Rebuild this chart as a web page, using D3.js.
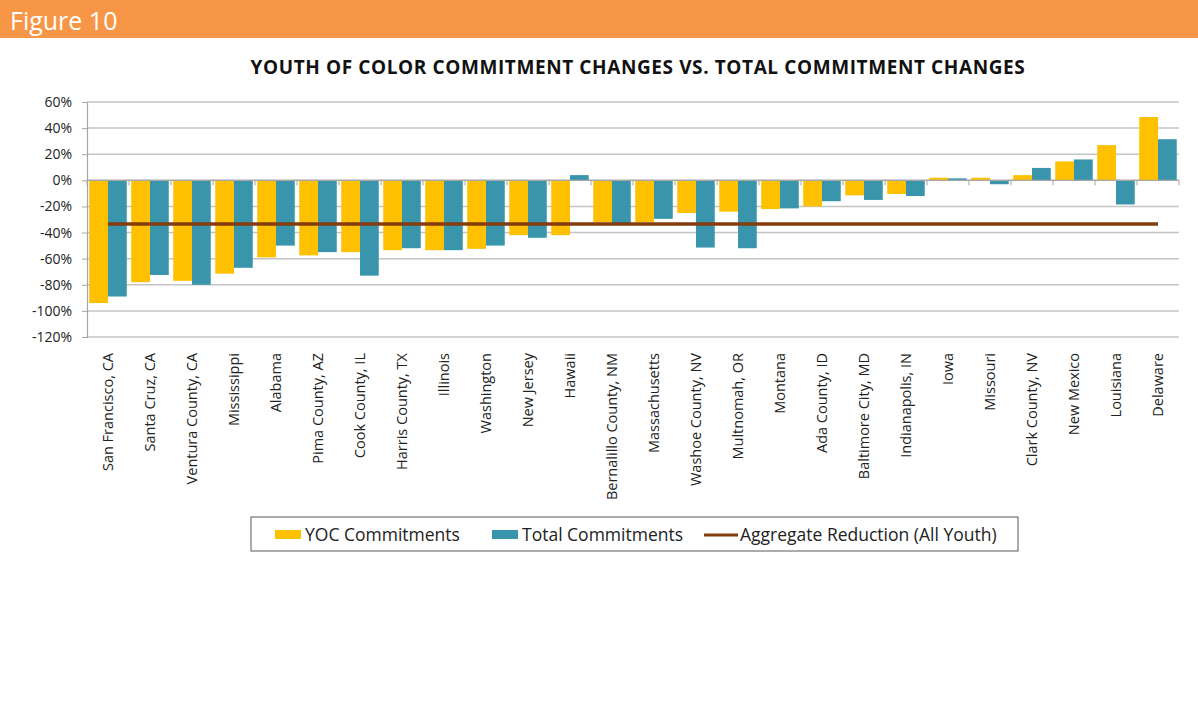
<!DOCTYPE html>
<html>
<head>
<meta charset="utf-8">
<script src="https://cdn.jsdelivr.net/npm/d3@7"></script>
<style>
  body { margin: 0; background: #fff; }
  text { font-family: "Open Sans", "Noto Sans", sans-serif; }
</style>
</head>
<body>
<div id="chart"></div>
<script>
// chart values
const categories = [
  "San Francisco, CA", "Santa Cruz, CA", "Ventura County, CA", "Mississippi",
  "Alabama", "Pima County, AZ", "Cook County, IL", "Harris County, TX",
  "Illinois", "Washington", "New Jersey", "Hawaii", "Bernalillo County, NM",
  "Massachusetts", "Washoe County, NV", "Multnomah, OR", "Montana",
  "Ada County, ID", "Baltimore City, MD", "Indianapolis, IN", "Iowa",
  "Missouri", "Clark County, NV", "New Mexico", "Louisiana", "Delaware"
];
const yocValues = [-94, -78, -77, -71.5, -59, -57.5, -55, -53.5, -53.5, -52.5, -42, -42,
  -32, -32, -25, -24, -22, -20, -11.5, -10.5, 2, 2, 4, 14.5, 27, 48.5];
const totalValues = [-89, -72.5, -80, -67, -50, -55, -73, -52, -53.5, -50, -44, 4,
  -33, -29.5, -51.5, -52, -21.5, -16, -15, -12, 1.5, -3, 9.5, 16, -18.5, 31.5];
const aggregateReduction = -33.5;
const yTicks = [60, 40, 20, 0, -20, -40, -60, -80, -100, -120];
const seriesNames = ["YOC Commitments", "Total Commitments", "Aggregate Reduction (All Youth)"];

const width = 1198;
const height = 707;
const yocColor = "#FFC000";
const totalColor = "#3895AC";
const lineColor = "#843C0C";

const svg = d3.select("#chart")
  .append("svg")
  .attr("width", width)
  .attr("height", height);

// header band
svg.append("rect")
  .attr("x", 0).attr("y", 0)
  .attr("width", width).attr("height", 38)
  .attr("fill", "#F79646");

svg.append("text")
  .attr("x", 10).attr("y", 30)
  .attr("fill", "#fff")
  .style("font-size", "25px")
  .text("Figure 10");

svg.append("text")
  .attr("x", 638).attr("y", 74)
  .attr("text-anchor", "middle")
  .style("font-size", "19px")
  .style("letter-spacing", "0.6px")
  .style("font-weight", "bold")
  .attr("fill", "#111")
  .text("YOUTH OF COLOR COMMITMENT CHANGES VS. TOTAL COMMITMENT CHANGES");

const x = d3.scaleBand()
  .domain(categories)
  .range([87, 1179]);

const xSub = d3.scaleBand()
  .domain(["yoc", "total"])
  .range([0, x.bandwidth()])
  .paddingOuter(0.12);

const y = d3.scaleLinear()
  .domain([-120, 60])
  .range([337, 102]);

// gridlines
svg.append("g")
  .selectAll("line")
  .data(yTicks)
  .join("line")
  .attr("x1", 87).attr("x2", 1179)
  .attr("y1", d => y(d)).attr("y2", d => y(d))
  .attr("stroke", "#C4C4C4")
  .attr("stroke-width", 1.5);

// y axis
const yAxis = svg.append("g")
  .attr("transform", "translate(87,0)")
  .call(d3.axisLeft(y).tickValues(yTicks).tickSize(5).tickPadding(10).tickFormat(d => d + "%"));
yAxis.select(".domain").attr("stroke", "#A6A6A6").attr("stroke-width", 1.2);
yAxis.selectAll(".tick line").attr("stroke", "#A6A6A6");
yAxis.selectAll(".tick text")
  .attr("fill", "#222")
  .style("font-size", "14px")
  .style("font-family", "'Open Sans', sans-serif");

// bars
const rows = categories.map((c, i) => ({ cat: c, yoc: yocValues[i], total: totalValues[i] }));

const groups = svg.append("g")
  .selectAll("g")
  .data(rows)
  .join("g")
  .attr("transform", d => `translate(${x(d.cat)},0)`);

groups.selectAll("rect")
  .data(d => [{ key: "yoc", v: d.yoc }, { key: "total", v: d.total }])
  .join("rect")
  .attr("x", d => xSub(d.key))
  .attr("width", xSub.bandwidth())
  .attr("y", d => y(Math.max(0, d.v)))
  .attr("height", d => Math.abs(y(d.v) - y(0)))
  .attr("fill", d => d.key === "yoc" ? yocColor : totalColor);

// category axis along zero
const xAxis = svg.append("g")
  .attr("transform", `translate(0,${y(0)})`);
xAxis.append("line")
  .attr("x1", 87).attr("x2", 1179)
  .attr("stroke", "#A6A6A6").attr("stroke-width", 1.2);
xAxis.selectAll(".tk")
  .data(categories.concat(["end"]))
  .join("line")
  .attr("class", "tk")
  .attr("x1", (d, i) => 87 + i * x.step())
  .attr("x2", (d, i) => 87 + i * x.step())
  .attr("y1", 0).attr("y2", 5)
  .attr("stroke", "#A6A6A6");

// aggregate line
svg.append("line")
  .attr("x1", x(categories[0]) + x.bandwidth() / 2)
  .attr("x2", x(categories[categories.length - 1]) + x.bandwidth() / 2)
  .attr("y1", y(aggregateReduction)).attr("y2", y(aggregateReduction))
  .attr("stroke", lineColor)
  .attr("stroke-width", 3.5);

// category labels
svg.append("g")
  .selectAll("text")
  .data(categories)
  .join("text")
  .attr("transform", d => `translate(${x(d) + x.bandwidth() / 2 + 5},353) rotate(-90)`)
  .attr("text-anchor", "end")
  .attr("fill", "#222")
  .style("font-size", "14.5px")
  .text(d => d);

// legend
const legend = svg.append("g");
legend.append("rect")
  .attr("x", 251).attr("y", 517)
  .attr("width", 767).attr("height", 34)
  .attr("fill", "#fff")
  .attr("stroke", "#595959");

const legendItems = [
  { name: seriesNames[0], type: "rect", color: yocColor, x: 275 },
  { name: seriesNames[1], type: "rect", color: totalColor, x: 492 },
  { name: seriesNames[2], type: "line", color: lineColor, x: 704 }
];

legendItems.forEach(item => {
  if (item.type === "rect") {
    legend.append("rect")
      .attr("x", item.x).attr("y", 530)
      .attr("width", 26).attr("height", 9)
      .attr("fill", item.color);
  } else {
    legend.append("line")
      .attr("x1", item.x).attr("x2", item.x + 34)
      .attr("y1", 535).attr("y2", 535)
      .attr("stroke", item.color).attr("stroke-width", 3);
  }
  legend.append("text")
    .attr("x", item.x + (item.type === "rect" ? 30 : 36))
    .attr("y", 541)
    .attr("fill", "#222")
    .style("font-size", "17.5px")
    .text(item.name);
});
</script>
</body>
</html>
